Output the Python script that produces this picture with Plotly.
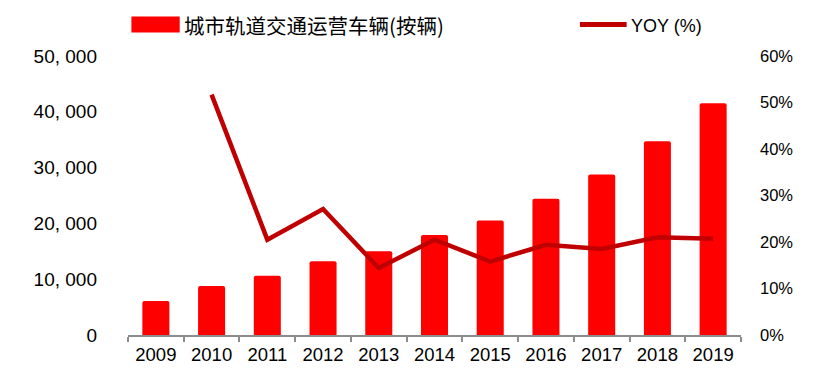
import plotly.graph_objects as go

years = ["2009", "2010", "2011", "2012", "2013", "2014", "2015", "2016", "2017", "2018", "2019"]
vehicles = [6100, 8800, 10600, 13200, 15000, 17900, 20500, 24400, 28750, 34700, 41550]
yoy_pct = [None, 51.7, 20.5, 27.1, 14.4, 20.5, 15.8, 19.4, 18.5, 21.0, 20.7]
left_ticks = [0, 10000, 20000, 30000, 40000, 50000]
left_ticktext = ["0", "10, 000", "20, 000", "30, 000", "40, 000", "50, 000"]
bar_name = "城市轨道交通运营车辆(按辆)"
line_name = "YOY (%)"

# The page body has an 8px default margin; lay the figure out so that it
# lands on the reference's window coordinates.
OFF = 8
W, H = 815 - OFF, 374 - OFF
PLOT_X0, PLOT_X1 = 128.3, 741.0      # window pixel coords of plot area
PLOT_Y0, PLOT_Y1 = 56.0, 335.5
L = PLOT_X0 - OFF
R = W - (PLOT_X1 - OFF)
T = PLOT_Y0 - OFF
B = H - (PLOT_Y1 - OFF)
PW = PLOT_X1 - PLOT_X0
PH = PLOT_Y1 - PLOT_Y0


def px(x):
    return (x - PLOT_X0) / PW


def py(y):
    return (PLOT_Y1 - y) / PH


BAR_COLOR = "#FF0000"
LINE_COLOR = "#C00000"
SANS = "Liberation Sans, Arial, sans-serif"

fig = go.Figure()
fig.add_trace(go.Bar(
    x=years, y=vehicles, name=bar_name,
    marker=dict(color=BAR_COLOR, line=dict(width=0), cornerradius=2),
    yaxis="y",
))
fig.add_trace(go.Scatter(
    x=years, y=yoy_pct, name=line_name, mode="lines",
    line=dict(color=LINE_COLOR, width=4.5),
    yaxis="y2", connectgaps=False,
))

fig.update_layout(
    width=W, height=H,
    margin=dict(l=L, r=R, t=T, b=B, pad=0, autoexpand=False),
    paper_bgcolor="white", plot_bgcolor="white",
    showlegend=False,
    bargap=0.515,
    xaxis=dict(
        type="category", showgrid=False, showline=True, linecolor="#8c8c8c", linewidth=1.5,
        ticks="outside", tickson="boundaries", ticklen=5, tickcolor="#8c8c8c", tickwidth=1.5,
        tickfont=dict(family=SANS, size=18.5, color="#000000"),
        tickangle=0, automargin=False,
        ticklabelstandoff=2,
    ),
    yaxis=dict(
        range=[0, 50000], tickvals=left_ticks, ticktext=left_ticktext,
        showgrid=False, zeroline=False, showline=False, ticks="",
        tickfont=dict(family=SANS, size=19, color="#000000"),
        ticklabelstandoff=30, automargin=False,
    ),
    yaxis2=dict(
        range=[0, 60], dtick=10, ticksuffix="%", overlaying="y", side="right",
        showgrid=False, zeroline=False, showline=False, ticks="",
        tickfont=dict(family=SANS, size=16.5, color="#000000"),
        ticklabelstandoff=18, automargin=False,
    ),
)

# Legend drawn manually to match the reference's large swatches
fig.add_shape(type="rect", xref="paper", yref="paper",
              x0=px(131.7), x1=px(180), y0=py(32.5), y1=py(16.5),
              fillcolor=BAR_COLOR, line=dict(width=0))
fig.add_annotation(xref="paper", yref="paper", x=px(182), y=py(8.2),
                   xanchor="left", yanchor="top", showarrow=False,
                   text=bar_name,
                   font=dict(family="Noto Sans CJK SC, sans-serif", size=20.5, color="#000000"))
fig.add_shape(type="line", xref="paper", yref="paper",
              x0=px(580), x1=px(626.7), y0=py(24.5), y1=py(24.5),
              line=dict(color=LINE_COLOR, width=5))
fig.add_annotation(xref="paper", yref="paper", x=px(629), y=py(25.5),
                   xanchor="left", yanchor="middle", showarrow=False,
                   text=line_name,
                   font=dict(family=SANS, size=18, color="#000000"))

fig.write_html("out.html")
